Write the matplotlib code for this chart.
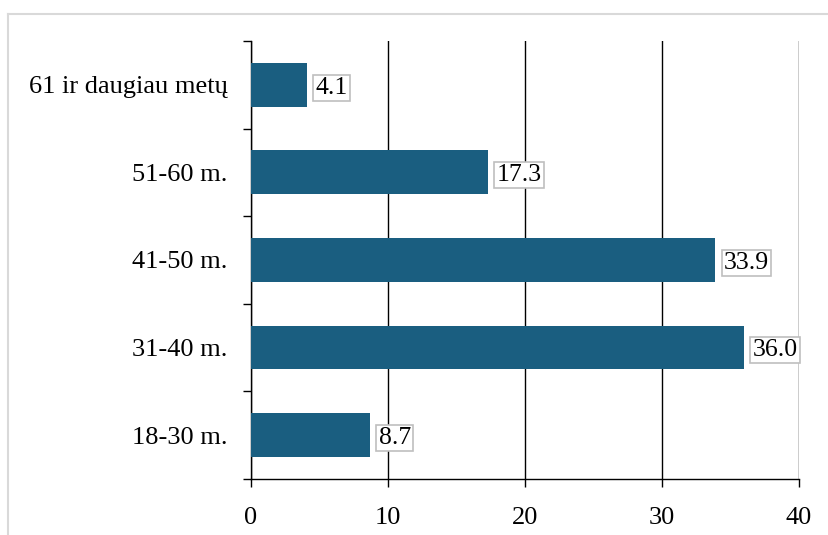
import matplotlib.pyplot as plt
from matplotlib.lines import Line2D
import numpy as np

# age groups, bottom to top
groups = ['18-30 m.', '31-40 m.', '41-50 m.', '51-60 m.', '61 ir daugiau metų']
shares = [8.7, 36.0, 33.9, 17.3, 4.1]

plt.rcParams['font.family'] = ['Liberation Serif', 'DejaVu Serif']

fig = plt.figure(figsize=(8.29, 5.35), dpi=100)
ax = fig.add_axes([251 / 829, 1 - 479 / 535, 548 / 829, 438 / 535])

y = np.arange(len(groups))
ax.barh(y, shares, height=0.5, color='#1a5e80', zorder=3)

for yi, v in zip(y, shares):
    ax.annotate(f'{v:.1f}', xy=(v, yi), xytext=(6, -2), textcoords='offset points',
                ha='left', va='center', fontsize=18.5, zorder=4,
                bbox=dict(boxstyle='square,pad=0.08', fc='white', ec='#bfbfbf', lw=1.2))

ax.set_xlim(0, 40)
ax.set_ylim(-0.5, len(groups) - 0.5)
ax.set_xticks([0, 10, 20, 30, 40])
ax.set_yticks(y)
ax.set_yticklabels(groups)
ax.set_yticks(np.arange(-0.5, len(groups)), minor=True)

ax.grid(axis='x', color='black', lw=1, zorder=1)
ax.tick_params(axis='y', which='major', length=0, pad=17, labelsize=19)
ax.tick_params(axis='y', which='minor', length=6, width=1, direction='out')
ax.tick_params(axis='x', length=6, width=1, direction='out', pad=14, labelsize=19)

for s in ['top', 'right']:
    ax.spines[s].set_visible(False)
ax.spines['left'].set_linewidth(1)
ax.spines['bottom'].set_linewidth(1)

# light frame around the chart area
fig.add_artist(Line2D([8 / 829, 8 / 829], [1 - 14 / 535, 0], color='#d9d9d9', lw=1.5,
                      transform=fig.transFigure))
fig.add_artist(Line2D([8 / 829, 1], [1 - 14 / 535, 1 - 14 / 535], color='#d9d9d9', lw=1.5,
                      transform=fig.transFigure))

fig.savefig('out.png', dpi=100)
